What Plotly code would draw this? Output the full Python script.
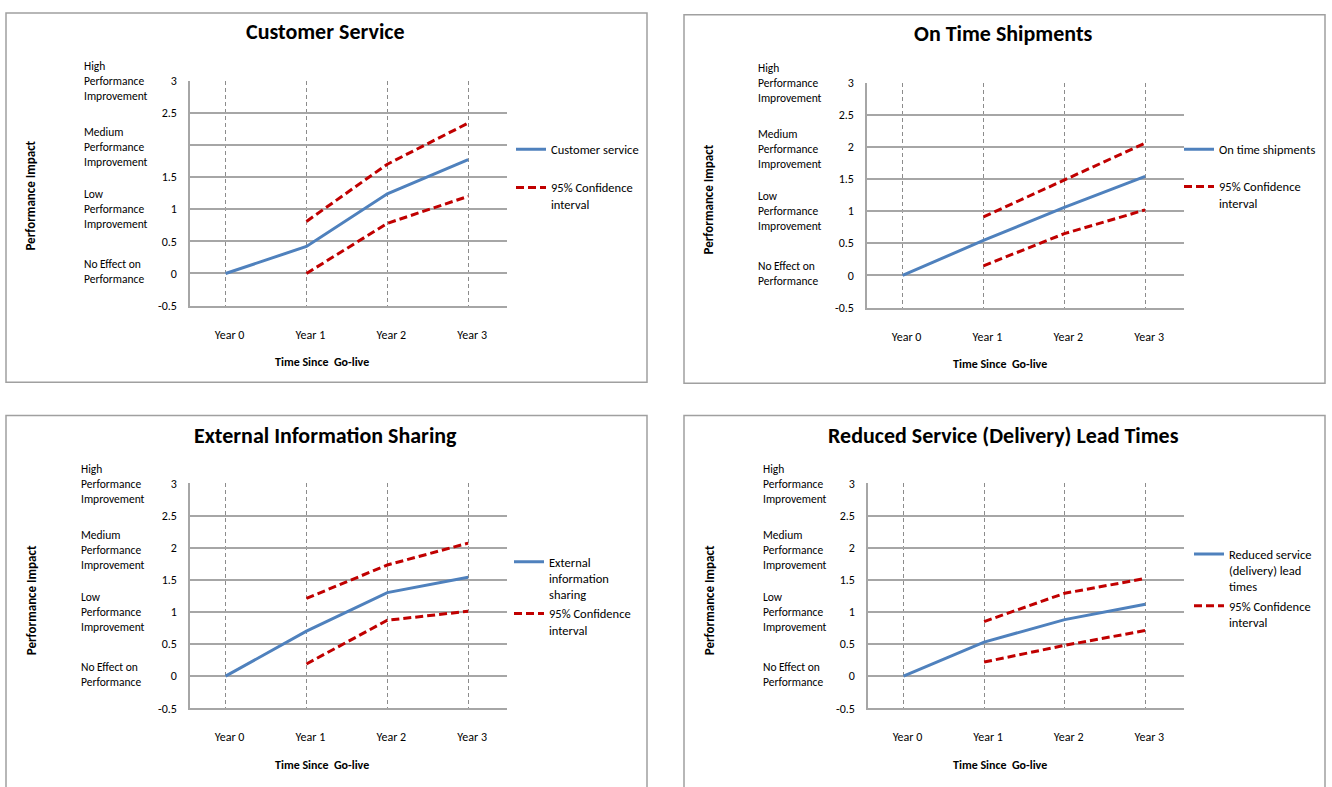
import plotly.graph_objects as go

# ---- data -------------------------------------------------------------
years = ["Year 0", "Year 1", "Year 2", "Year 3"]
ci_years = years[1:]

y_tickvals = [-0.5, 0, 0.5, 1, 1.5, 2, 2.5, 3]
y_ticktext = ["-0.5", "0", "0.5", "1", "1.5", "2", "2.5", "3"]
# the Customer Service chart leaves the "2" label out
y_ticktext_cs = ["-0.5", "0", "0.5", "1", "1.5", "", "2.5", "3"]

level_labels = [
    "High<br>Performance<br>Improvement",
    "Medium<br>Performance<br>Improvement",
    "Low<br>Performance<br>Improvement",
    "No Effect on<br>Performance",
]
level_values = [2.99, 1.97, 1.0, 0.03]

titles = [
    "Customer Service",
    "On Time Shipments",
    "External Information Sharing",
    "Reduced Service (Delivery) Lead Times",
]
series_names = [
    "Customer service",
    "On time shipments",
    "External<br>information<br>sharing",
    "Reduced service<br>(delivery) lead<br>times",
]
ci_name = "95% Confidence<br>interval"

cs_mean = [0.0, 0.42, 1.24, 1.77]
cs_upper = [0.81, 1.70, 2.34]
cs_lower = [0.0, 0.78, 1.20]

ots_mean = [0.0, 0.545, 1.06, 1.54]
ots_upper = [0.91, 1.48, 2.06]
ots_lower = [0.15, 0.65, 1.02]

eis_mean = [0.0, 0.70, 1.30, 1.54]
eis_upper = [1.21, 1.73, 2.07]
eis_lower = [0.19, 0.87, 1.01]

rsl_mean = [0.0, 0.53, 0.88, 1.12]
rsl_upper = [0.85, 1.29, 1.52]
rsl_lower = [0.22, 0.48, 0.71]

means = [cs_mean, ots_mean, eis_mean, rsl_mean]
uppers = [cs_upper, ots_upper, eis_upper, rsl_upper]
lowers = [cs_lower, ots_lower, eis_lower, rsl_lower]

# ---- page geometry (pixels) -------------------------------------------
W, H = 1332, 787


def fx(px):
    return px / W


def fy(py):
    return 1 - py / H


# plot area (left, right, top, bottom), frame (left, right, top, bottom)
panels = [
    dict(plot=(190, 507, 75, 304), frame=(6, 647, 6, 382), title=(325, 25),
         ytitle=(31, 192), xtitle=(322, 361), levels_x=82, legend=(511, 130),
         gap=19),
    dict(plot=(867, 1184, 77, 306), frame=(684, 1325, 8, 383), title=(1003, 27),
         ytitle=(709, 196), xtitle=(1000, 363), levels_x=756, legend=(1179, 130),
         gap=18),
    dict(plot=(190, 507, 485, 714), frame=(6, 647, 416, 800), title=(325, 436),
         ytitle=(31, 604), xtitle=(322, 772), levels_x=79, legend=(509, 550),
         gap=0),
    dict(plot=(868, 1184, 485, 714), frame=(684, 1325, 416, 800), title=(1003, 436),
         ytitle=(709, 604), xtitle=(1000, 772), levels_x=761, legend=(1189, 542),
         gap=0),
]

FONT = "Carlito, 'Liberation Sans Narrow', Lato, sans-serif"
BLUE = "#4F81BD"
RED = "#C00000"
GRID = "#A6A6A6"

fig = go.Figure()
annotations = []
shapes = []
layout = {}

for i, p in enumerate(panels):
    n = "" if i == 0 else str(i + 1)
    xa, ya = "x" + n, "y" + n
    leg = "legend" + n

    fig.add_trace(go.Scatter(
        x=years, y=means[i], mode="lines", name=series_names[i],
        line=dict(color=BLUE, width=3),
        xaxis=xa, yaxis=ya, legend=leg, legendgroup=f"m{i}",
    ))
    fig.add_trace(go.Scatter(
        x=ci_years + [None] + ci_years,
        y=uppers[i] + [None] + lowers[i],
        mode="lines", name=ci_name, connectgaps=False,
        line=dict(color=RED, width=3, dash="8px,4px"),
        xaxis=xa, yaxis=ya, legend=leg, legendgroup=f"c{i}",
    ))

    l, r, t, b = p["plot"]
    layout["xaxis" + n] = dict(
        domain=[fx(l), fx(r)], anchor=ya, type="category",
        range=[-0.44, 3.48], showgrid=True, gridcolor="#8C8C8C",
        griddash="4px,3px", gridwidth=1, showline=True, linecolor=GRID,
        linewidth=1.5, ticks="", ticklabelstandoff=17, ticklabelshift=4,
        tickfont=dict(family=FONT, size=12, color="#000"),
        zeroline=False, fixedrange=True,
    )
    layout["yaxis" + n] = dict(
        domain=[fy(b), fy(t)], anchor=xa, range=[-0.5, 3],
        tickvals=y_tickvals,
        ticktext=y_ticktext_cs if i == 0 else y_ticktext,
        showgrid=True, gridcolor=GRID, gridwidth=1.5, showline=True,
        linecolor=GRID, linewidth=1.5, ticks="", ticklabelstandoff=9,
        tickfont=dict(family=FONT, size=12, color="#000"),
        zeroline=False, fixedrange=True,
    )
    lx, ly = p["legend"]
    layout[leg] = dict(
        x=fx(lx), y=fy(ly), xanchor="left", yanchor="top",
        bgcolor="rgba(0,0,0,0)", borderwidth=0, valign="top",
        traceorder="grouped", tracegroupgap=p["gap"], itemwidth=30,
        font=dict(family=FONT, size=12.5, color="#000"),
    )

    # chart frame
    fl, fr, ft, fb = p["frame"]
    shapes.append(dict(type="rect", xref="paper", yref="paper",
                       x0=fx(fl), x1=fx(fr), y0=fy(fb), y1=fy(ft),
                       line=dict(color="#A0A0A0", width=1.5), layer="below"))

    tx, ty = p["title"]
    annotations.append(dict(
        text="<b>" + titles[i] + "</b>", x=fx(tx), y=fy(ty), xref="paper",
        yref="paper", xanchor="center", yanchor="middle", showarrow=False,
        font=dict(family=FONT, size=22, color="#000"),
    ))
    yx, yy = p["ytitle"]
    annotations.append(dict(
        text="<b>Performance Impact</b>", x=fx(yx), y=fy(yy), xref="paper",
        yref="paper", xanchor="center", yanchor="middle", textangle=-90,
        showarrow=False, font=dict(family=FONT, size=13, color="#000"),
    ))
    xx, xy = p["xtitle"]
    annotations.append(dict(
        text="<b>Time Since  Go-live</b>", x=fx(xx), y=fy(xy), xref="paper",
        yref="paper", xanchor="center", yanchor="middle", showarrow=False,
        font=dict(family=FONT, size=12, color="#000"),
    ))
    for lab, val in zip(level_labels, level_values):
        annotations.append(dict(
            text=lab, x=fx(p["levels_x"]), y=val, xref="paper", yref=ya,
            xanchor="left", yanchor="middle", align="left", showarrow=False,
            font=dict(family=FONT, size=11.5, color="#000"),
        ))

fig.update_layout(
    width=W, height=H, margin=dict(l=0, r=0, t=0, b=0),
    paper_bgcolor="white", plot_bgcolor="white",
    annotations=annotations, shapes=shapes, **layout,
)

fig.write_html("out.html")
